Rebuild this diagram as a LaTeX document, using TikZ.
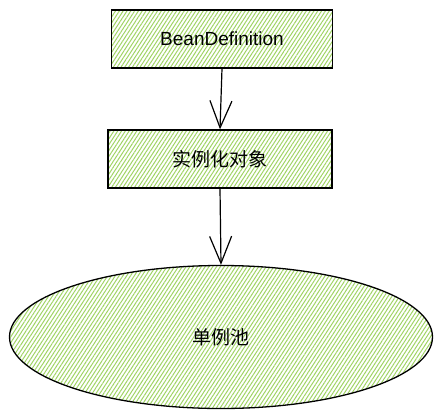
\documentclass[tikz,border=0pt]{standalone}
\usepackage{fontspec}
\setmainfont{Liberation Sans}
\newfontfamily\cjk{Noto Sans CJK SC}
\usetikzlibrary{patterns.meta,arrows.meta,shapes.geometric}
\definecolor{hatch}{RGB}{160,212,100}
\tikzset{
  hatched/.style={draw=black, line width=1.3pt,
    pattern={Lines[angle=57,distance=3.2pt,line width=1pt]}, pattern color=hatch},
  boxnode/.style={hatched, rectangle, minimum width=221pt, minimum height=58pt, inner sep=0pt, font=\fontsize{19}{22}\selectfont},
  conn/.style={line width=1.2pt, -{Straight Barb[length=27pt,width=22pt,line width=1.2pt]}}
}
\begin{document}
\begin{tikzpicture}[x=1pt,y=-1pt]
\useasboundingbox (0,0) rectangle (441,418);
\node[boxnode] (bd) at (222,39) {BeanDefinition};
\node[boxnode, minimum width=224pt] (inst) at (220,159) {\cjk 实例化对象};
\node[hatched, ellipse, minimum width=423pt, minimum height=143pt, inner sep=0pt, font=\cjk\fontsize{19}{22}\selectfont] (pool) at (221,337) {单例池};
\draw[conn] (bd.south) -- (inst.north);
\draw[conn] (inst.south) -- (pool.north);
\end{tikzpicture}
\end{document}
